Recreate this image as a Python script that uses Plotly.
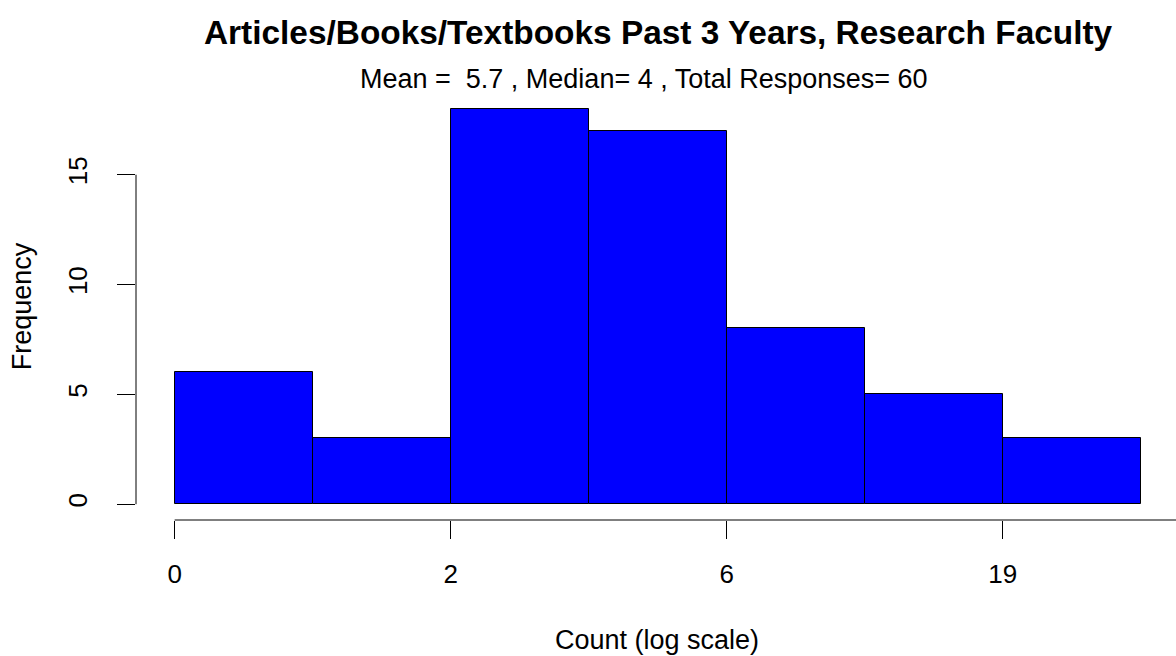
import plotly.graph_objects as go

# Histogram of publication counts (bins on a log-count scale)
bin_edges = [0, 1, 2, 3, 4, 5, 6, 7]
frequencies = [6, 3, 18, 17, 8, 5, 3]
x_tick_positions = [0, 2, 4, 6]
x_tick_labels = ["0", "2", "6", "19"]
y_tick_values = [0, 5, 10, 15]

title_text = "<b>Articles/Books/Textbooks Past 3 Years, Research Faculty</b>"
subtitle_text = "Mean =  5.7 , Median= 4 , Total Responses= 60"
x_title = "Count (log scale)"
y_title = "Frequency"

W, H = 1176, 656
M_L, M_R, M_T, M_B = 136, 0, 92.5, 136
# the R plotting region runs slightly past the right edge of the page
REGION_RIGHT_PX = 1179.5
FONT = "Arial, Liberation Sans, Helvetica, sans-serif"

centers = [(a + b) / 2 for a, b in zip(bin_edges[:-1], bin_edges[1:])]
widths = [b - a for a, b in zip(bin_edges[:-1], bin_edges[1:])]

# R-style 4% padding on both axes
x_lo, x_hi = bin_edges[0], bin_edges[-1]
x_pad = 0.04 * (x_hi - x_lo)
y_hi = max(frequencies)
y_pad = 0.04 * y_hi
plot_w = W - M_L - M_R
px_per_x = (REGION_RIGHT_PX - M_L) / ((x_hi - x_lo) + 2 * x_pad)
x_range = [x_lo - x_pad, x_lo - x_pad + plot_w / px_per_x]
y_range = [-y_pad, y_hi + y_pad]

plot_h = H - M_T - M_B


def px_to_paper_x(px):
    return (px - M_L) / plot_w


def px_to_paper_y(py):
    return (H - M_B - py) / plot_h


fig = go.Figure()
fig.add_trace(go.Bar(
    x=centers, y=frequencies, width=widths,
    marker=dict(color="#0000FF", line=dict(color="black", width=1)),
    hoverinfo="skip",
))

# axis lines drawn R-style: only over the tick span
fig.add_shape(type="line", xref="x", yref="paper",
              x0=x_tick_positions[0], x1=x_range[1], y0=0, y1=0,
              line=dict(color="black", width=1))
fig.add_shape(type="line", xref="paper", yref="y",
              x0=0, x1=0, y0=y_tick_values[0], y1=y_tick_values[-1],
              line=dict(color="black", width=1))

fig.add_annotation(text=title_text, xref="paper", yref="paper",
                   x=px_to_paper_x(658), y=px_to_paper_y(32),
                   xanchor="center", yanchor="middle", showarrow=False,
                   font=dict(family=FONT, size=33.4, color="black"))
fig.add_annotation(text=subtitle_text, xref="paper", yref="paper",
                   x=px_to_paper_x(358), y=px_to_paper_y(78),
                   xanchor="left", yanchor="middle", showarrow=False,
                   font=dict(family=FONT, size=27, color="black"))
fig.add_annotation(text=x_title, xref="paper", yref="paper",
                   x=px_to_paper_x(657), y=px_to_paper_y(640),
                   xanchor="center", yanchor="middle", showarrow=False,
                   font=dict(family=FONT, size=27, color="black"))
fig.add_annotation(text=y_title, xref="paper", yref="paper",
                   x=px_to_paper_x(22), y=px_to_paper_y(306),
                   xanchor="center", yanchor="middle", showarrow=False,
                   textangle=-90,
                   font=dict(family=FONT, size=27, color="black"))

fig.update_layout(
    width=W, height=H,
    margin=dict(l=M_L, r=M_R, t=M_T, b=M_B, pad=0),
    paper_bgcolor="white", plot_bgcolor="white",
    bargap=0, showlegend=False,
    font=dict(family=FONT, color="black"),
    xaxis=dict(range=x_range, tickvals=x_tick_positions, ticktext=x_tick_labels,
               ticks="outside", ticklen=18, tickwidth=1, tickcolor="black",
               showline=False, showgrid=False, zeroline=False,
               ticklabelstandoff=13,
               tickfont=dict(family=FONT, size=26, color="black")),
    yaxis=dict(range=y_range, tickvals=y_tick_values,
               ticks="outside", ticklen=18, tickwidth=1, tickcolor="black",
               showline=False, showgrid=False, zeroline=False,
               tickangle=-90, ticklabelstandoff=20,
               tickfont=dict(family=FONT, size=26, color="black")),
)

fig.write_html("out.html")
